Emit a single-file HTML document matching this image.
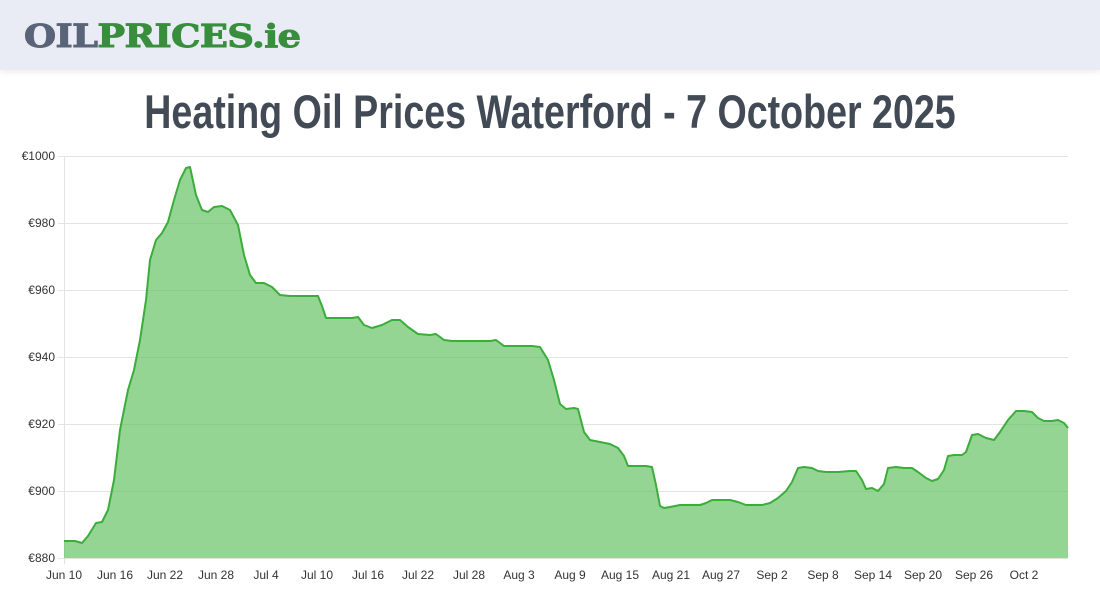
<!DOCTYPE html>
<html><head><meta charset="utf-8"><style>
body{margin:0;width:1100px;height:600px;background:#fff;font-family:"Liberation Sans",sans-serif;overflow:hidden}
.hdr{position:absolute;left:0;top:0;width:1100px;height:70px;background:#e9ecf4;box-shadow:0 2px 6px rgba(0,0,0,.08)}
.logo{position:absolute;left:24px;top:17px;font-family:"DejaVu Serif","Liberation Serif",serif;font-weight:900;font-size:32px;letter-spacing:-0.5px;color:#5a6478;transform:scaleX(1.15);transform-origin:left;-webkit-text-stroke:1px currentColor}
.logo span{color:#388e3c}
h1{position:absolute;top:84px;left:0;width:1100px;text-align:center;margin:0;font-family:"Liberation Sans Narrow","Liberation Sans",sans-serif;font-weight:bold;font-size:47px;color:#424a56;transform:scaleX(.8)}
</style></head><body>
<div class="hdr"><div class="logo">OIL<span>PRICES.ie</span></div></div>
<h1>Heating Oil Prices Waterford - 7 October 2025</h1>
<svg width="1100" height="600" style="position:absolute;left:0;top:0" font-family="Liberation Sans, sans-serif" font-size="12" fill="#333">
<g stroke="#e3e3e3" stroke-width="1">
<line x1="58" x2="1068" y1="156.5" y2="156.5"/><line x1="58" x2="1068" y1="223.5" y2="223.5"/><line x1="58" x2="1068" y1="290.5" y2="290.5"/><line x1="58" x2="1068" y1="357.5" y2="357.5"/><line x1="58" x2="1068" y1="424.5" y2="424.5"/><line x1="58" x2="1068" y1="491.5" y2="491.5"/><line x1="58" x2="1068" y1="558.5" y2="558.5"/><line x1="64.5" x2="64.5" y1="156" y2="564"/>
</g>
<g text-anchor="end"><text x="55" y="160">€1000</text><text x="55" y="227">€980</text><text x="55" y="294">€960</text><text x="55" y="361">€940</text><text x="55" y="428">€920</text><text x="55" y="495">€900</text><text x="55" y="562">€880</text></g>
<g text-anchor="middle"><text x="64" y="579">Jun 10</text><text x="115" y="579">Jun 16</text><text x="165" y="579">Jun 22</text><text x="216" y="579">Jun 28</text><text x="266" y="579">Jul 4</text><text x="317" y="579">Jul 10</text><text x="368" y="579">Jul 16</text><text x="418" y="579">Jul 22</text><text x="469" y="579">Jul 28</text><text x="519" y="579">Aug 3</text><text x="570" y="579">Aug 9</text><text x="620" y="579">Aug 15</text><text x="671" y="579">Aug 21</text><text x="721" y="579">Aug 27</text><text x="772" y="579">Sep 2</text><text x="823" y="579">Sep 8</text><text x="873" y="579">Sep 14</text><text x="923" y="579">Sep 20</text><text x="974" y="579">Sep 26</text><text x="1024" y="579">Oct 2</text></g>
<polygon fill="#5cc05c" fill-opacity=".66" points="64,558 64,541 75,541 82,543 88,536 96,523 102,522 108,510 114,480 120,430 128,390 134,370 140,340 146,300 150,260 156,240 162,233 168,222 174,200 180,180 186,168 190,167 196,195 202,210 208,212 214,207 222,206 230,210 238,225 244,255 250,275 256,283 264,283 272,287 280,295 290,296 300,296 310,296 318,296 322,306 326,318 334,318 344,318 352,318 358,317 364,325 372,328 382,325 392,320 400,320 408,327 418,334 430,335 436,334 444,340 452,341 470,341 490,341 496,340 504,346 512,346 532,346 540,347 548,360 554,380 560,404 566,409 574,408 578,409 584,432 590,440 600,442 610,444 618,448 624,456 628,466 636,466 646,466 652,467 656,485 660,506 664,508 670,507 680,505 690,505 700,505 706,503 712,500 720,500 730,500 738,502 746,505 754,505 762,505 770,503 778,498 786,491 792,482 798,468 804,467 812,468 818,471 826,472 838,472 850,471 856,471 862,480 866,489 872,488 878,491 884,484 888,468 896,467 904,468 912,468 918,472 926,478 932,481 938,479 944,470 948,456 954,455 962,455 966,452 972,435 978,434 986,438 994,440 1000,432 1008,420 1016,411 1024,411 1032,412 1038,418 1044,421 1052,421 1058,420 1064,423 1068,428 1068,558"/>
<polyline fill="none" stroke="#3aad3a" stroke-width="2" stroke-linejoin="round" points="64,541 75,541 82,543 88,536 96,523 102,522 108,510 114,480 120,430 128,390 134,370 140,340 146,300 150,260 156,240 162,233 168,222 174,200 180,180 186,168 190,167 196,195 202,210 208,212 214,207 222,206 230,210 238,225 244,255 250,275 256,283 264,283 272,287 280,295 290,296 300,296 310,296 318,296 322,306 326,318 334,318 344,318 352,318 358,317 364,325 372,328 382,325 392,320 400,320 408,327 418,334 430,335 436,334 444,340 452,341 470,341 490,341 496,340 504,346 512,346 532,346 540,347 548,360 554,380 560,404 566,409 574,408 578,409 584,432 590,440 600,442 610,444 618,448 624,456 628,466 636,466 646,466 652,467 656,485 660,506 664,508 670,507 680,505 690,505 700,505 706,503 712,500 720,500 730,500 738,502 746,505 754,505 762,505 770,503 778,498 786,491 792,482 798,468 804,467 812,468 818,471 826,472 838,472 850,471 856,471 862,480 866,489 872,488 878,491 884,484 888,468 896,467 904,468 912,468 918,472 926,478 932,481 938,479 944,470 948,456 954,455 962,455 966,452 972,435 978,434 986,438 994,440 1000,432 1008,420 1016,411 1024,411 1032,412 1038,418 1044,421 1052,421 1058,420 1064,423 1068,428"/>
</svg>
</body></html>
